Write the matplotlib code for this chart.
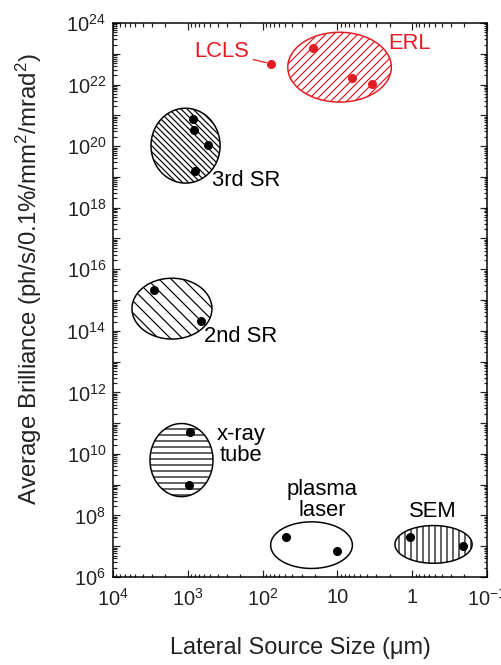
import numpy as np
import matplotlib.pyplot as plt
from matplotlib.ticker import FixedLocator, LogLocator, NullFormatter

plt.rcParams['font.family'] = ['Liberation Sans', 'DejaVu Sans']
plt.rcParams['mathtext.default'] = 'regular'
plt.rcParams['hatch.linewidth'] = 1.2

ROSSO = '#e31b23'

# regioni occupate da ciascuna sorgente: dimensione (um) e brillanza, min/max
sorgenti = ['ERL', '3rd SR', '2nd SR', 'x-ray tube', 'plasma laser', 'SEM']
dim_min = [1.9, 370, 475, 460, 6.3, 0.158]
dim_max = [46, 3100, 5570, 3200, 78, 1.7]
bril_min = [2.7e21, 6.3e18, 5.4e13, 4.1e8, 1.9e6, 2.8e6]
bril_max = [5.0e23, 1.7e21, 5.1e15, 9.7e10, 6.2e7, 4.7e7]

# singole macchine dentro ogni regione
erl_dim = [21, 6.4, 3.4]
erl_bril = [1.5e23, 1.6e22, 1.05e22]
lcls_dim = [77]
lcls_bril = [4.7e22]
sr3_dim = [850, 826, 537, 800]
sr3_bril = [7.6e20, 3.3e20, 1.1e20, 1.5e19]
sr2_dim = [2800, 673]
sr2_bril = [2.1e15, 2.1e14]
tubo_dim = [935, 955]
tubo_bril = [5e10, 1.0e9]
plasma_dim = [49, 10.2]
plasma_bril = [2.0e7, 7e6]
sem_dim = [1.07, 0.21]
sem_bril = [2e7, 1e7]

# etichette degli assi
x_tick_val = [1e4, 1e3, 1e2, 10, 1, 0.1]
x_tick_lab = ['$10^4$', '$10^3$', '$10^2$', '10', '1', '$10^{-1}$']
y_esponenti = np.arange(6, 25, 2)

# nota: per il tratteggio diagonale ogni carattere vale mezza densita'
stili = {
    'ERL': dict(col=ROSSO, hatch='///'),
    '3rd SR': dict(col='black', hatch='\\' * 4),
    '2nd SR': dict(col='black', hatch='\\' * 2),
    'x-ray tube': dict(col='black', hatch='--'),
    'plasma laser': dict(col='black', hatch=None),
    'SEM': dict(col='black', hatch='||'),
}


def ellisse_log(x0, x1, y0, y1, n=200):
    # ellisse disegnata nello spazio logaritmico, cosi' appare regolare sul grafico
    lx0, lx1 = np.log10(x0), np.log10(x1)
    ly0, ly1 = np.log10(y0), np.log10(y1)
    t = np.linspace(0, 2 * np.pi, n)
    cx, cy = (lx0 + lx1) / 2, (ly0 + ly1) / 2
    ax_, ay_ = abs(lx1 - lx0) / 2, abs(ly1 - ly0) / 2
    return 10 ** (cx + ax_ * np.cos(t)), 10 ** (cy + ay_ * np.sin(t))


fig = plt.figure(figsize=(501 / 72, 665 / 72), dpi=72)
ax = fig.add_axes([0.2255, 0.1323, 0.7465, 0.8331])
ax.set_xscale('log')
ax.set_yscale('log')
ax.set_xlim(1e4, 1e-1)
ax.set_ylim(1e6, 1e24)

for nome, a, b, c, d in zip(sorgenti, dim_min, dim_max, bril_min, bril_max):
    st = stili[nome]
    xe, ye = ellisse_log(a, b, c, d)
    ax.fill(xe, ye, facecolor='white', edgecolor=st['col'], hatch=st['hatch'],
            linewidth=1.5, zorder=2)

punti = [(erl_dim, erl_bril, ROSSO), (lcls_dim, lcls_bril, ROSSO),
         (sr3_dim, sr3_bril, 'black'), (sr2_dim, sr2_bril, 'black'),
         (tubo_dim, tubo_bril, 'black'), (plasma_dim, plasma_bril, 'black'),
         (sem_dim, sem_bril, 'black')]
for xs, ys, c in punti:
    ax.plot(xs, ys, 'o', color=c, markersize=8, zorder=3)

fs = 22
ax.annotate('LCLS', xy=(lcls_dim[0], lcls_bril[0]), xytext=(150, 1.15e23),
            ha='right', va='center', fontsize=fs, color=ROSSO,
            arrowprops=dict(arrowstyle='-', color=ROSSO, lw=1.3, shrinkA=2, shrinkB=5))
ax.text(1.1, 2.2e23, 'ERL', fontsize=fs, color=ROSSO, ha='center', va='center')
ax.text(167, 7.9e18, '3rd SR', fontsize=fs, ha='center', va='center')
ax.text(195, 6.3e13, '2nd SR', fontsize=fs, ha='center', va='center')
ax.text(195, 1.95e10, 'x-ray\ntube', fontsize=fs, ha='center', va='center',
        linespacing=1.05)
ax.text(15.8, 3.2e8, 'plasma\nlaser', fontsize=fs, ha='center', va='center',
        linespacing=0.95)
ax.text(0.536, 1.3e8, 'SEM', fontsize=fs, ha='center', va='center')

# tacche
ax.xaxis.set_major_locator(FixedLocator(x_tick_val))
ax.set_xticklabels(x_tick_lab)
ax.xaxis.set_minor_locator(LogLocator(base=10, subs=np.arange(2, 10), numticks=100))
ax.xaxis.set_minor_formatter(NullFormatter())

ax.yaxis.set_major_locator(FixedLocator(10.0 ** np.arange(6, 25)))
ax.set_yticklabels(['$10^{%d}$' % e if e in y_esponenti else ''
                    for e in np.arange(6, 25)])
ax.yaxis.set_minor_locator(LogLocator(base=10, subs=np.arange(2, 10), numticks=100))
ax.yaxis.set_minor_formatter(NullFormatter())

ax.tick_params(which='both', direction='in', top=True, right=True, width=1.2,
               labelsize=20, colors='#222222')
ax.tick_params(which='major', length=7)
ax.tick_params(which='minor', length=3.5)
ax.tick_params(axis='x', pad=11)
ax.tick_params(axis='y', pad=7)
for s in ax.spines.values():
    s.set_linewidth(1.5)

ax.set_xlabel('Lateral Source Size (\u03bcm)', fontsize=23.5, color='#222222',
              va='center')
ax.xaxis.set_label_coords(0.5, -0.128)
ax.set_ylabel('Average Brilliance (ph/s/0.1%/mm$^2$/mrad$^2$)', fontsize=24,
              color='#222222', ha='center', va='center')
ax.yaxis.set_label_coords(-0.225, 0.538)

fig.savefig('out.png', dpi=72)
